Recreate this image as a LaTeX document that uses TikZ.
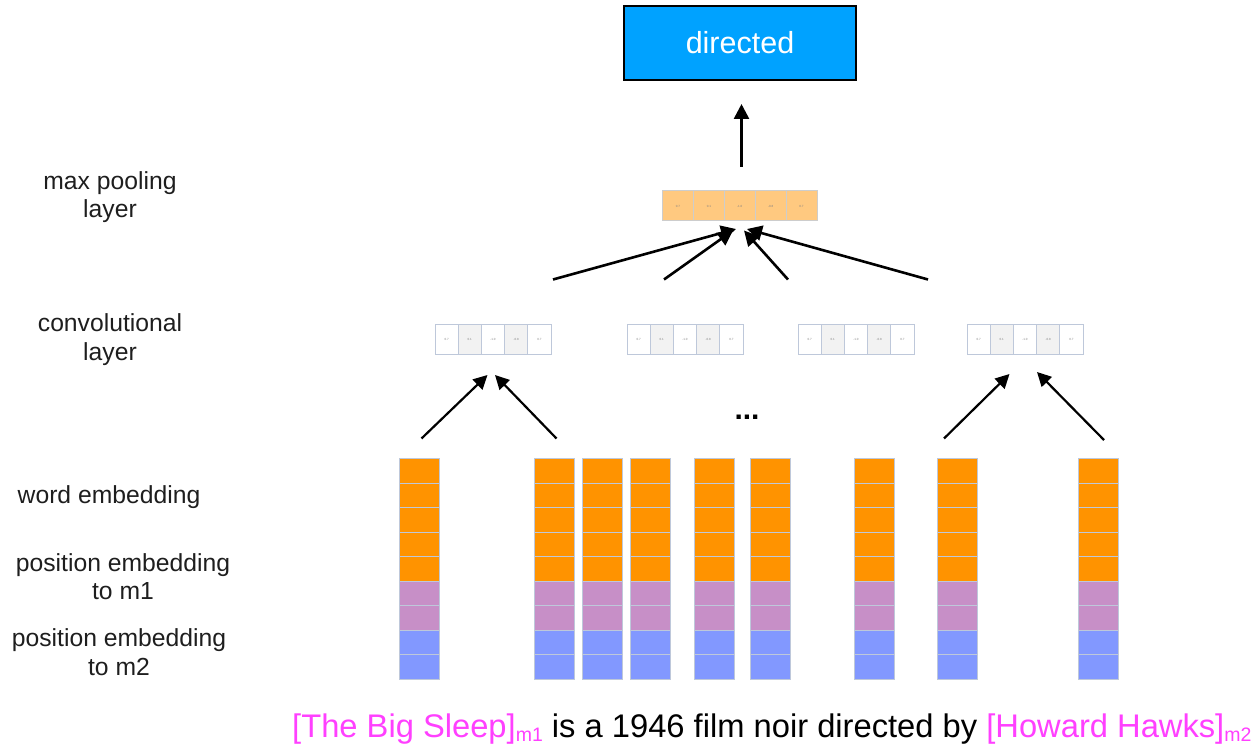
\documentclass[tikz,border=0pt]{standalone}
\usepackage{fontspec}
\setmainfont{Liberation Sans}
\usetikzlibrary{arrows.meta}
\definecolor{wordc}{RGB}{255,147,0}
\definecolor{posa}{RGB}{199,143,199}
\definecolor{posb}{RGB}{130,152,255}
\definecolor{gridc}{RGB}{190,200,218}
\definecolor{poolc}{RGB}{255,201,128}
\definecolor{poolg}{RGB}{205,205,205}
\definecolor{convg}{RGB}{242,242,242}
\definecolor{outc}{RGB}{0,162,255}
\definecolor{mentc}{RGB}{255,64,255}
\definecolor{lblc}{RGB}{30,30,30}
\begin{document}
\begin{tikzpicture}[x=1pt,y=-1pt,
  cell/.style={draw=gridc,line width=1pt,inner sep=0pt,outer sep=0pt,anchor=north west},
  emb/.style={cell,minimum width=40pt,minimum height=24.5pt},
  convcell/.style={cell,minimum width=23.2pt,minimum height=30pt,
    font=\fontsize{3}{3}\selectfont,text=gray},
  poolcell/.style={cell,draw=poolg,fill=poolc,minimum width=30.9pt,minimum height=30pt,
    font=\fontsize{3}{3}\selectfont,text=gray},
  lbl/.style={align=center,text=lblc,font=\fontsize{24.7}{28.5}\selectfont},
  arr/.style={line width=2.6pt,-{Triangle[length=15pt,width=15pt]}},
  arrs/.style={line width=2.2pt,-{Triangle[length=14pt,width=14pt]}},
]
\useasboundingbox (0,0) rectangle (1259,746);

% output label
\node[draw=black,line width=2.2pt,fill=outc,minimum width=232pt,minimum height=74pt,
  inner sep=0pt,text=white,font=\fontsize{30.5}{30.5}\selectfont] (out) at (740,42.8) {directed};

% max pooling layer
\foreach \v [count=\j] in {0.7,0.1,-1.0,-0.8,0.7}
  \node[poolcell] (pool\j) at ({662.5+(\j-1)*30.9},191) {\v};

% convolutional layer blocks
\foreach \bx [count=\k] in {435,627,798,967}{
  \foreach \v [count=\j] in {0.7,0.1,-1.0,-0.8,0.7}{
    \pgfmathparse{mod(\j,2)==0 ? "convg" : "white"}
    \edef\cf{\pgfmathresult}
    \node[convcell,fill=\cf] (c\k-\j) at ({\bx+(\j-1)*23.2},324.5) {\v};
  }
}

% embedding columns: 5 word cells, 2 + 2 position cells
\foreach \cx [count=\i] in {399,534.5,582.5,630.5,694.5,750.5,854.5,937,1078.5}{
  \foreach \j in {1,...,9}{
    \ifnum\j<6 \def\cf{wordc}\else\ifnum\j<8 \def\cf{posa}\else\def\cf{posb}\fi\fi
    \node[emb,fill=\cf] (w\i-\j) at (\cx,{458.5+(\j-1)*24.5}) {};
  }
}

\node[font=\bfseries\fontsize{30}{30}\selectfont] (dots) at (747,417) {...};

% row labels
\node[lbl] (lpool) at (110,197) {max pooling\\layer};
\node[lbl] (lconv) at (110,339.5) {convolutional\\layer};
\node[lbl,anchor=base] (lword) at (109,503.3) {word embedding};
\node[lbl] (lposa) at (123,576.5) {position embedding\\to m1};
\node[lbl] (lposb) at (119,652) {position embedding\\to m2};

% sentence
\node[anchor=base west,inner sep=0pt,font=\fontsize{32.7}{32.7}\selectfont] (sent) at (292,737.5)
  {\textcolor{mentc}{[The Big Sleep]\raisebox{-4pt}{\fontsize{19.5}{19.5}\selectfont m1}} is a 1946 film noir directed by \textcolor{mentc}{[Howard Hawks]\raisebox{-4pt}{\fontsize{19.5}{19.5}\selectfont m2}}};

% arrow end points
\coordinate (u0) at (741.5,167);  \coordinate (u1) at (741.5,104);
\coordinate (p1s) at (553,279.5); \coordinate (p1e) at (736,229);
\coordinate (p2s) at (664,279.5); \coordinate (p2e) at (733,230.5);
\coordinate (p3s) at (788,279.5); \coordinate (p3e) at (744,230.5);
\coordinate (p4s) at (928,279.5); \coordinate (p4e) at (747,229);
\coordinate (q1s) at (421.5,438.5); \coordinate (q1e) at (487.5,375);
\coordinate (q2s) at (556.5,438.5); \coordinate (q2e) at (495,375);
\coordinate (q3s) at (944,438.5);   \coordinate (q3e) at (1009.5,374);
\coordinate (q4s) at (1104,440);    \coordinate (q4e) at (1037,372);

\draw[arr] (u0) -- (u1);
\foreach \n in {1,...,4} \draw[arr] (p\n s) -- (p\n e);
\foreach \n in {1,...,4} \draw[arrs] (q\n s) -- (q\n e);
\end{tikzpicture}
\end{document}
